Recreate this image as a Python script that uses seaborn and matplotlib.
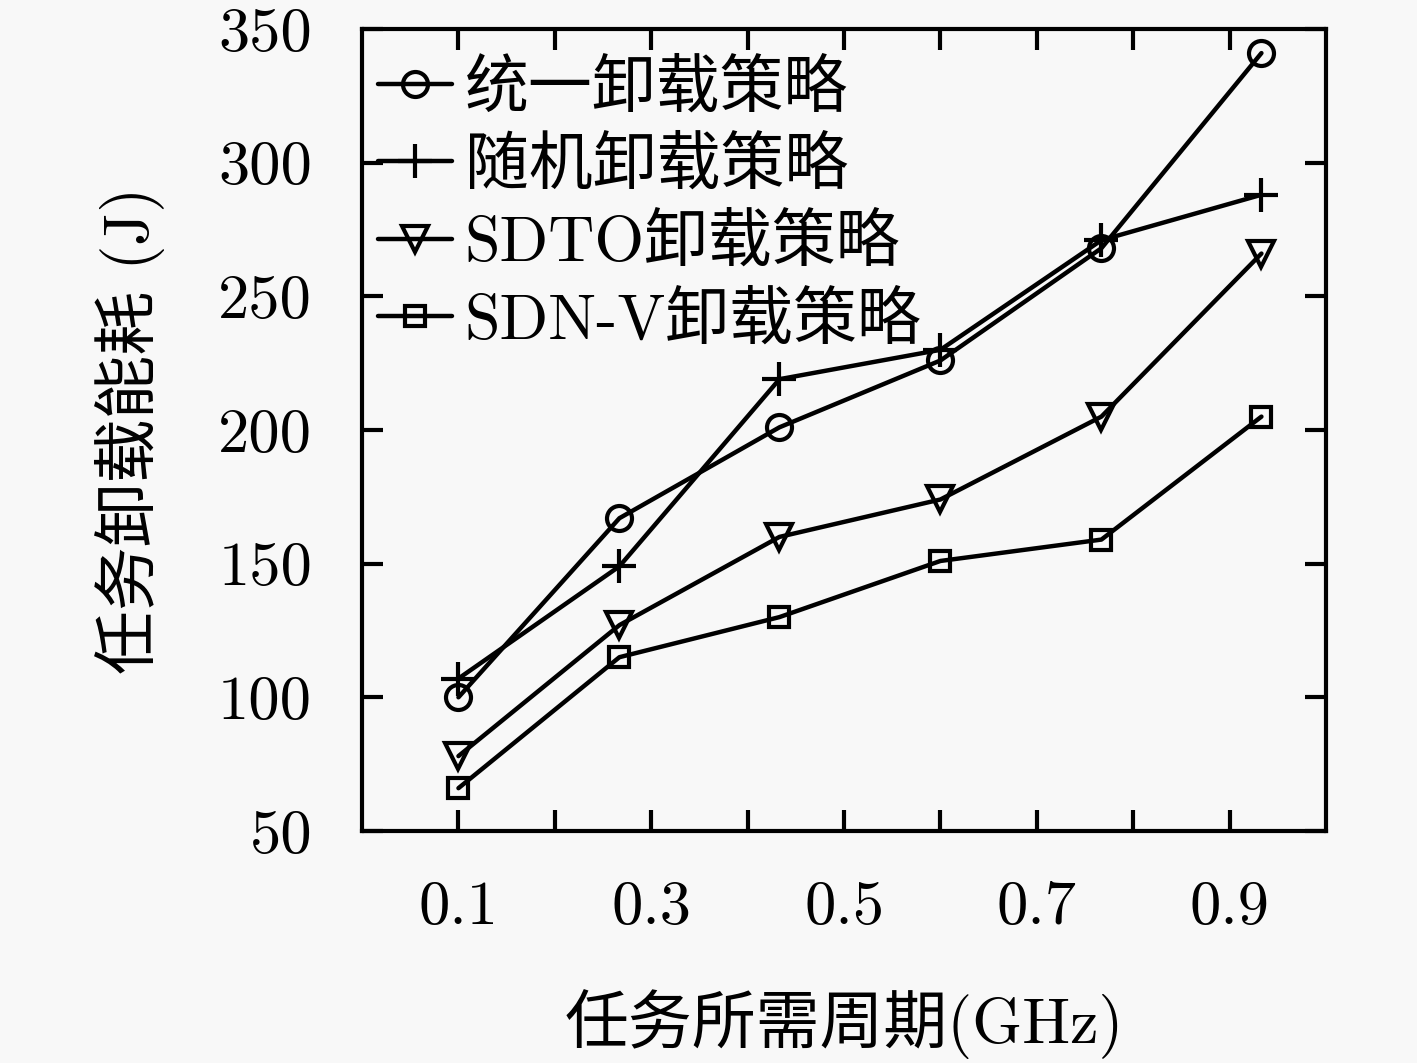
import matplotlib
matplotlib.use("Agg")
import matplotlib.pyplot as plt
import numpy as np
import pandas as pd
import seaborn as sns

# values
cycles = [0.1, 0.267, 0.433, 0.6, 0.767, 0.933]
unified = [100, 167, 201, 226, 268, 341]
random_offload = [107, 149, 219, 230, 271, 288]
sdto = [78, 127, 160, 174, 205, 266]
sdn_v = [66, 115, 130, 151, 159, 205]

series_names = ["统一卸载策略", "随机卸载策略", "SDTO卸载策略", "SDN-V卸载策略"]
series_values = [unified, random_offload, sdto, sdn_v]
series_markers = ["o", "+", "v", "s"]
marker_sizes = [18, 25, 19, 15]

x_ticks = [0.1, 0.3, 0.5, 0.7, 0.9]
y_ticks = [50, 100, 150, 200, 250, 300, 350]

sns.set_style("ticks")
plt.rcParams["font.family"] = ["cmr10", "Noto Sans CJK SC"]
plt.rcParams["axes.formatter.use_mathtext"] = True
plt.rcParams["mathtext.fontset"] = "cm"
for key in ["text.color", "axes.labelcolor", "xtick.color", "ytick.color",
            "xtick.labelcolor", "ytick.labelcolor", "axes.edgecolor"]:
    plt.rcParams[key] = "black"

BG = "#f8f8f8"

fig = plt.figure(figsize=(14.17, 10.63), dpi=100, facecolor=BG)
ax = fig.add_axes([0.2555, 0.2183, 0.6803, 0.7544])
ax.set_facecolor(BG)

for name, vals, mk, ms in zip(series_names, series_values, series_markers, marker_sizes):
    df = pd.DataFrame({"x": cycles, "y": vals})
    sns.lineplot(
        data=df, x="x", y="y", ax=ax, color="black", linewidth=3.2,
        marker=mk, markersize=ms, markerfacecolor="none",
        markeredgecolor="black", markeredgewidth=3, label=name,
    )

ax.set_xlim(0, 1.0)
ax.set_ylim(50, 350)
ax.set_xticks(x_ticks)
ax.set_xticklabels([f"{v:.1f}" for v in x_ticks])
ax.set_xticks(np.round(np.arange(0.1, 1.0, 0.1), 1), minor=True)
ax.set_yticks(y_ticks)
ax.set_yticklabels([str(v) for v in y_ticks])

ax.tick_params(axis="both", which="both", direction="in", top=True, right=True,
               width=3, color="black", labelcolor="black", labelsize=45)
ax.tick_params(axis="x", which="both", length=15, pad=36)
ax.tick_params(axis="y", which="major", length=15, pad=36)
for sp in ax.spines.values():
    sp.set_linewidth(3)
    sp.set_color("black")

ax.set_xlabel("任务所需周期(GHz)", fontsize=46, labelpad=38)
ax.set_ylabel("任务卸载能耗 (J)", fontsize=46, labelpad=38)

leg = ax.legend(loc="upper left", bbox_to_anchor=(0.0104, 0.9695), frameon=False,
                fontsize=46, handlelength=1.15, handletextpad=0.2,
                labelspacing=0.28, borderaxespad=0, borderpad=0.1)

fig.savefig("out.png", dpi=100, facecolor=BG)
